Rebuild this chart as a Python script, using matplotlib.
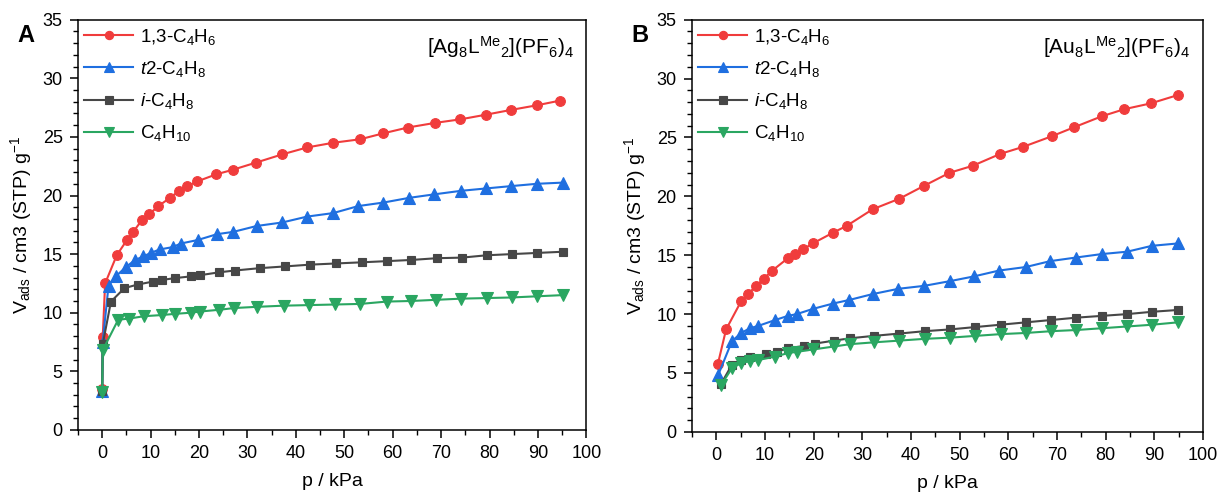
import matplotlib
matplotlib.use("Agg")
import matplotlib.pyplot as plt
from matplotlib.ticker import MultipleLocator

plt.rcParams['font.family'] = ['Liberation Sans', 'DejaVu Sans']
plt.rcParams['mathtext.fontset'] = 'custom'
plt.rcParams['mathtext.rm'] = 'Liberation Sans'
plt.rcParams['mathtext.it'] = 'Liberation Sans:italic'
plt.rcParams['mathtext.bf'] = 'Liberation Sans:bold'

# ---------------- data: panel A ----------------
a_c4h6_x = [0.0, 0.1, 0.6, 3.0, 5.1, 6.4, 8.2, 9.7, 11.6, 14.0, 15.9, 17.6, 19.6, 23.5, 27.0, 31.7,
            37.1, 42.3, 47.7, 53.3, 58.0, 63.1, 68.8, 74.0, 79.3, 84.4, 89.8, 94.6]
a_c4h6_y = [3.5, 7.9, 12.5, 14.9, 16.2, 16.9, 17.9, 18.4, 19.1, 19.8, 20.4, 20.8, 21.2, 21.8, 22.2, 22.8,
            23.5, 24.1, 24.5, 24.8, 25.3, 25.8, 26.2, 26.5, 26.9, 27.3, 27.7, 28.1]
a_t2_x = [0.0, 0.1, 1.3, 2.8, 4.9, 6.8, 8.5, 10.0, 11.9, 14.6, 16.2, 19.7, 23.7, 27.1, 31.9, 37.2,
          42.3, 47.7, 52.9, 58.1, 63.4, 68.6, 74.1, 79.2, 84.4, 89.8, 95.1]
a_t2_y = [3.3, 7.5, 12.3, 13.1, 13.9, 14.5, 14.8, 15.1, 15.4, 15.6, 15.9, 16.2, 16.7, 16.9, 17.4, 17.7,
          18.2, 18.5, 19.1, 19.4, 19.8, 20.1, 20.4, 20.6, 20.8, 21.0, 21.1]
a_i_x = [0.0, 0.1, 1.8, 4.6, 7.3, 10.4, 12.4, 15.0, 18.3, 20.2, 24.2, 27.4, 32.5, 37.8, 42.9, 48.2,
         53.6, 58.8, 63.8, 69.1, 74.3, 79.4, 84.6, 89.8, 95.1]
a_i_y = [3.3, 7.3, 10.95, 12.1, 12.4, 12.65, 12.8, 12.95, 13.1, 13.2, 13.45, 13.6, 13.8, 13.95, 14.1, 14.2,
         14.3, 14.4, 14.5, 14.65, 14.7, 14.9, 15.0, 15.1, 15.2]
a_c4h10_x = [0.0, 0.1, 3.3, 5.6, 8.6, 12.3, 15.0, 18.3, 20.2, 24.2, 27.3, 31.9, 37.5, 42.8, 48.1,
             53.3, 58.8, 63.8, 69.0, 74.2, 79.4, 84.6, 89.8, 95.1]
a_c4h10_y = [3.2, 6.8, 9.4, 9.5, 9.7, 9.8, 9.9, 10.0, 10.1, 10.25, 10.4, 10.5, 10.6, 10.65, 10.7,
             10.75, 10.95, 11.0, 11.1, 11.2, 11.25, 11.3, 11.4, 11.5]

# ---------------- data: panel B ----------------
b_c4h6_x = [0.3, 2.0, 5.1, 6.6, 8.2, 9.7, 11.5, 14.7, 16.2, 17.8, 19.8, 23.9, 26.8, 32.1, 37.6, 42.7,
            47.9, 52.7, 58.3, 63.0, 68.9, 73.4, 79.2, 83.8, 89.3, 94.8]
b_c4h6_y = [5.75, 8.7, 11.1, 11.75, 12.4, 13.0, 13.7, 14.75, 15.1, 15.5, 16.0, 16.9, 17.5, 18.9, 19.8, 20.9,
            22.0, 22.6, 23.6, 24.2, 25.1, 25.85, 26.8, 27.4, 27.9, 28.6]
b_t2_x = [0.4, 3.2, 5.1, 6.9, 8.6, 12.1, 14.7, 16.5, 19.9, 24.0, 27.3, 32.1, 37.4, 42.7, 48.0, 52.9,
          58.1, 63.6, 68.6, 73.8, 79.2, 84.4, 89.5, 94.8]
b_t2_y = [4.85, 7.7, 8.4, 8.8, 9.0, 9.5, 9.85, 10.0, 10.45, 10.9, 11.2, 11.7, 12.15, 12.4, 12.8, 13.2,
          13.7, 14.0, 14.5, 14.8, 15.1, 15.3, 15.8, 16.0]
b_i_x = [1.0, 3.2, 5.1, 6.9, 10.2, 12.4, 14.8, 18.0, 20.3, 24.2, 27.5, 32.3, 37.6, 42.8, 48.0, 53.2,
         58.4, 63.6, 68.8, 74.0, 79.2, 84.4, 89.6, 94.8]
b_i_y = [4.1, 5.7, 6.1, 6.35, 6.6, 6.8, 7.1, 7.3, 7.5, 7.75, 7.95, 8.15, 8.35, 8.55, 8.7, 8.9,
         9.1, 9.3, 9.5, 9.7, 9.85, 10.0, 10.2, 10.35]
b_c4h10_x = [1.0, 3.2, 5.1, 6.9, 8.6, 12.1, 14.8, 16.6, 19.9, 24.2, 27.5, 32.3, 37.6, 42.8, 48.0, 53.2,
             58.4, 63.6, 68.8, 74.0, 79.2, 84.4, 89.6, 94.8]
b_c4h10_y = [4.0, 5.4, 5.85, 6.0, 6.1, 6.4, 6.7, 6.8, 7.0, 7.25, 7.45, 7.6, 7.75, 7.9, 8.0, 8.15,
             8.3, 8.4, 8.55, 8.65, 8.8, 8.95, 9.1, 9.3]

labels = [r'1,3-C$_{\mathregular{4}}$H$_{\mathregular{6}}$',
          r'$\mathit{t}$2-C$_{\mathregular{4}}$H$_{\mathregular{8}}$',
          r'$\mathit{i}$-C$_{\mathregular{4}}$H$_{\mathregular{8}}$',
          r'C$_{\mathregular{4}}$H$_{\mathregular{10}}$']
colors = ['#F03C3C', '#1F6FE0', '#474747', '#2AA661']
markers = ['o', '^', 's', 'v']
msizes = [7, 8, 6, 8]

panels = [
    ([(a_c4h6_x, a_c4h6_y), (a_t2_x, a_t2_y), (a_i_x, a_i_y), (a_c4h10_x, a_c4h10_y)],
     r'[Ag$_{\mathregular{8}}$L$^{\mathregular{Me}}$$_{\mathregular{2}}$](PF$_{\mathregular{6}}$)$_{\mathregular{4}}$', 'A'),
    ([(b_c4h6_x, b_c4h6_y), (b_t2_x, b_t2_y), (b_i_x, b_i_y), (b_c4h10_x, b_c4h10_y)],
     r'[Au$_{\mathregular{8}}$L$^{\mathregular{Me}}$$_{\mathregular{2}}$](PF$_{\mathregular{6}}$)$_{\mathregular{4}}$', 'B'),
]

fig = plt.figure(figsize=(12.19, 4.93), dpi=100)
rects = [[0.064, 0.128, 0.417, 0.832], [0.5677, 0.124, 0.4192, 0.836]]

for (series, title, letter), rect in zip(panels, rects):
    ax = fig.add_axes(rect)
    for (x, y), lab, c, m, ms in zip(series, labels, colors, markers, msizes):
        ax.plot(x, y, color=c, marker=m, markersize=ms, linewidth=1.5, label=lab,
                markeredgewidth=0.8)
    ax.set_xlim(-5, 100)
    ax.set_ylim(0, 35)
    ax.xaxis.set_major_locator(MultipleLocator(10))
    ax.xaxis.set_minor_locator(MultipleLocator(5))
    ax.yaxis.set_major_locator(MultipleLocator(5))
    ax.yaxis.set_minor_locator(MultipleLocator(1))
    ax.tick_params(which='major', direction='out', length=6, width=1.1, labelsize=13, pad=5)
    ax.tick_params(which='minor', direction='out', length=3.5, width=1.0)
    for s in ax.spines.values():
        s.set_linewidth(1.1)
    ax.set_xlabel('p / kPa', fontsize=14, labelpad=8)
    ax.set_ylabel(r'V$_{\mathregular{ads}}$ / cm3 (STP) g$^{\mathregular{-1}}$', fontsize=14, labelpad=6)
    ax.text(0.975, 0.965, title, transform=ax.transAxes, ha='right', va='top', fontsize=15)
    leg = ax.legend(loc='upper left', frameon=False, fontsize=13.5, handlelength=2.6,
                    labelspacing=0.65, borderaxespad=0.2, handletextpad=0.4, markerscale=0.85,
                    bbox_to_anchor=(-0.01, 1.01))
    pos = ax.get_position()
    fig.text(pos.x0 - 0.043, 0.905, letter, fontsize=17, fontweight='bold', ha='center', va='bottom')

fig.savefig('out.png', dpi=100)
